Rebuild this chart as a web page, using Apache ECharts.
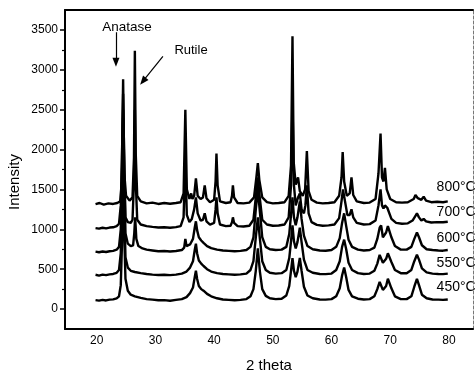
<!DOCTYPE html>
<html><head><meta charset="utf-8">
<script src="https://cdn.jsdelivr.net/npm/echarts@6/dist/echarts.min.js"></script>
<style>html,body{margin:0;padding:0;background:#fff}#c{width:476px;height:374px}</style>
</head><body><div id="c"></div>
<script>
const xTicks = [20,30,40,50,60,70,80];
const yTicks = [0,500,1000,1500,2000,2500,3000,3500];
const yMinorTicks = [250,750,1250,1750,2250,2750,3250];
const seriesNames = ['450°C','550°C','600°C','700°C','800°C'];

const s450 = [[19.8,112],[20.4,105],[21.0,115],[21.6,108],[22.2,118],[22.8,122],[23.4,135],[23.8,160],[24.1,300],[24.3,800],[24.5,2000],[24.7,900],[24.9,380],[25.3,230],[25.8,180],[26.5,160],[27.5,140],[28.5,125],[29.5,118],[30.5,110],[31.5,112],[32.5,105],[33.5,115],[34.5,125],[35.3,150],[35.9,200],[36.4,270],[36.7,400],[36.9,480],[37.1,380],[37.4,290],[37.8,250],[38.2,230],[38.8,190],[39.5,160],[40.5,135],[41.5,120],[42.5,115],[43.5,110],[44.5,115],[45.5,125],[46.2,160],[46.7,250],[47.1,480],[47.45,760],[47.8,470],[48.2,250],[48.8,165],[49.5,135],[50.5,125],[51.5,130],[52.3,170],[52.8,290],[53.1,480],[53.35,640],[53.6,480],[53.9,400],[54.2,470],[54.6,640],[54.9,480],[55.3,280],[55.9,170],[56.8,135],[58,120],[59,118],[60,125],[60.8,160],[61.4,260],[61.8,420],[62.15,520],[62.5,400],[62.9,240],[63.5,160],[64.5,130],[65.5,120],[66.5,125],[67.3,160],[67.8,250],[68.2,340],[68.45,350],[68.75,240],[69.0,220],[69.3,290],[69.6,380],[69.85,390],[70.2,260],[70.8,160],[71.8,125],[72.8,125],[73.6,160],[74.1,280],[74.55,380],[74.9,300],[75.4,180],[76.2,135],[77.2,120],[78.2,118],[79,115],[79.8,120]];

const s550 = [[19.8,430],[20.4,420],[21.0,432],[21.6,425],[22.2,435],[22.8,440],[23.4,455],[23.8,490],[24.1,700],[24.3,1400],[24.5,2400],[24.7,1300],[24.9,650],[25.3,520],[25.8,480],[26.5,465],[27.5,450],[28.5,440],[29.5,432],[30.5,428],[31.5,430],[32.5,425],[33.5,432],[34.5,445],[35.3,470],[35.9,520],[36.4,600],[36.7,740],[36.9,820],[37.1,700],[37.4,610],[37.8,570],[38.2,540],[38.8,500],[39.5,470],[40.5,450],[41.5,440],[42.5,435],[43.5,430],[44.5,435],[45.5,445],[46.2,490],[46.7,600],[47.1,900],[47.45,1150],[47.8,880],[48.2,600],[48.8,490],[49.5,455],[50.5,445],[51.5,450],[52.3,490],[52.8,640],[53.1,850],[53.35,1050],[53.6,850],[53.9,760],[54.2,840],[54.6,1020],[54.9,840],[55.3,620],[55.9,490],[56.8,455],[58,440],[59,438],[60,445],[60.8,490],[61.4,600],[61.8,780],[62.15,870],[62.5,750],[62.9,580],[63.5,490],[64.5,450],[65.5,440],[66.5,445],[67.3,480],[67.8,570],[68.2,680],[68.45,700],[68.75,580],[69.0,560],[69.3,630],[69.6,700],[69.85,710],[70.2,590],[70.8,490],[71.8,450],[72.8,450],[73.6,490],[74.1,600],[74.55,680],[74.9,620],[75.4,510],[76.2,460],[77.2,445],[78.2,440],[79,438],[79.8,445]];

const s600 = [[19.8,720],[20.4,712],[21.0,722],[21.6,715],[22.2,725],[22.8,730],[23.4,745],[23.8,780],[24.1,1000],[24.3,1800],[24.5,2880],[24.7,1700],[24.9,950],[25.3,820],[25.8,790],[26.2,800],[26.4,950],[26.55,1150],[26.75,880],[27.1,790],[27.8,760],[28.5,745],[29.5,735],[30.5,725],[31.5,728],[32.5,722],[33.5,728],[34.5,740],[34.9,770],[35.1,880],[35.3,790],[35.9,810],[36.4,880],[36.7,1020],[36.9,1100],[37.1,990],[37.4,900],[37.8,860],[38.2,830],[38.8,790],[39.5,765],[40.5,745],[41.5,735],[42.5,730],[43.5,725],[44.5,730],[45.5,740],[46.2,780],[46.7,900],[47.1,1250],[47.45,1500],[47.8,1220],[48.2,900],[48.8,780],[49.5,750],[50.5,740],[51.5,745],[52.3,780],[52.8,940],[53.1,1180],[53.35,1400],[53.6,1150],[53.9,1050],[54.2,1150],[54.6,1350],[54.9,1130],[55.3,920],[55.9,790],[56.8,750],[58,735],[59,732],[60,740],[60.8,780],[61.4,890],[61.8,1080],[62.15,1200],[62.5,1040],[62.9,870],[63.5,780],[64.5,745],[65.5,735],[66.5,740],[67.3,770],[67.8,880],[68.2,1020],[68.45,1050],[68.75,900],[69.0,880],[69.3,960],[69.6,1040],[69.85,1050],[70.2,900],[70.8,790],[71.8,745],[72.8,745],[73.6,780],[74.1,880],[74.55,960],[74.9,900],[75.4,800],[76.2,750],[77.2,740],[78.2,735],[79,732],[79.8,740]];

const s700 = [[19.8,1015],[20.4,1008],[21.0,1020],[21.6,1012],[22.2,1022],[22.8,1025],[23.4,1040],[23.8,1070],[24.1,1300],[24.3,1900],[24.5,2700],[24.7,1800],[24.9,1150],[25.3,1090],[25.8,1080],[26.1,1120],[26.35,1600],[26.5,2500],[26.65,1600],[26.9,1120],[27.5,1060],[28.5,1040],[29.5,1030],[30.5,1022],[31.5,1025],[32.5,1020],[33.5,1028],[34.3,1040],[34.8,1150],[35.1,1900],[35.35,1180],[35.8,1090],[36.2,1130],[36.6,1250],[36.9,1400],[37.2,1200],[37.7,1110],[38.1,1120],[38.4,1200],[38.7,1100],[39.3,1060],[40.0,1080],[40.25,1250],[40.4,1400],[40.6,1200],[41.0,1060],[42.0,1040],[42.8,1045],[43.05,1090],[43.2,1150],[43.4,1080],[44,1040],[45,1035],[46,1045],[46.7,1120],[47.1,1400],[47.45,1650],[47.8,1380],[48.2,1120],[49,1060],[50,1045],[51,1048],[52,1060],[52.7,1150],[53.1,1550],[53.35,2600],[53.6,1550],[53.9,1300],[54.3,1400],[54.6,1450],[54.9,1250],[55.3,1200],[55.55,1300],[55.8,1550],[56.1,1200],[56.6,1090],[57.5,1055],[58.5,1045],[59.5,1050],[60.5,1060],[61.3,1140],[61.7,1350],[61.95,1500],[62.3,1350],[62.7,1180],[63.1,1180],[63.4,1250],[63.7,1150],[64.3,1080],[65.5,1060],[66.5,1065],[67.5,1110],[68.0,1300],[68.35,1500],[68.6,1300],[68.85,1260],[69.1,1300],[69.5,1270],[69.8,1250],[70.2,1130],[71,1080],[72,1070],[73,1075],[73.8,1110],[74.3,1170],[74.55,1200],[74.9,1150],[75.3,1110],[75.7,1130],[76.1,1100],[77,1085],[78,1090],[79,1088],[79.8,1095]];

const s800 = [[19.8,1315],[20.5,1330],[21.2,1310],[22,1325],[22.8,1318],[23.5,1330],[24.0,1350],[24.3,1600],[24.5,2500],[24.7,1700],[25.0,1420],[25.6,1360],[26.1,1400],[26.35,1900],[26.5,3240],[26.65,1950],[26.9,1420],[27.5,1350],[28.5,1325],[29.5,1335],[30.5,1318],[31.5,1330],[32.5,1320],[33.5,1330],[34.3,1340],[34.8,1450],[35.1,2500],[35.35,1500],[35.8,1380],[36.1,1450],[36.3,1380],[36.6,1420],[36.9,1640],[37.2,1420],[37.7,1380],[38.1,1400],[38.4,1550],[38.7,1390],[39.3,1340],[40.0,1370],[40.25,1600],[40.4,1950],[40.6,1550],[41.0,1350],[42.0,1330],[42.8,1340],[43.05,1420],[43.2,1550],[43.4,1400],[44,1330],[45,1325],[46,1335],[46.8,1400],[47.2,1650],[47.45,1830],[47.7,1620],[48.2,1400],[49,1340],[50,1325],[51,1330],[52,1340],[52.7,1420],[53.1,1800],[53.35,3420],[53.55,1850],[53.9,1560],[54.3,1650],[54.6,1480],[55.1,1420],[55.5,1500],[55.8,1980],[56.1,1480],[56.6,1370],[57.5,1335],[58.5,1325],[59.5,1330],[60.5,1340],[61.3,1420],[61.7,1650],[61.9,1970],[62.15,1600],[62.6,1420],[63.1,1450],[63.4,1650],[63.7,1430],[64.3,1350],[65.5,1330],[66.5,1335],[67.5,1380],[68.0,1700],[68.35,2200],[68.6,1650],[68.85,1600],[69.1,1770],[69.4,1500],[70,1380],[71,1340],[72,1335],[73,1340],[74,1380],[74.3,1430],[74.45,1450],[74.7,1390],[75.3,1370],[75.7,1410],[76.1,1360],[77,1340],[78,1345],[79,1340],[79.8,1350]];

const labelY = [276,576,890,1216,1529];
const labelX = 77.9;

const chart = echarts.init(document.getElementById('c'), null, {renderer:'canvas'});
const FONT = 'Liberation Sans, Arial, sans-serif';
const allData = [s450,s550,s600,s700,s800];
const series = allData.map((d,i)=>({
  type:'line', name:seriesNames[i], data:d, xAxisIndex:0, yAxisIndex:0,
  showSymbol:false, symbol:'none', silent:true, animation:false,
  lineStyle:{color:'#000', width:2.4}, z:2
}));
// arrows
series.push({
  type:'line', xAxisIndex:0, yAxisIndex:0, data:[], silent:true, animation:false,
  markLine:{silent:true, animation:false, symbol:['none','triangle'], symbolSize:[7,9],
    lineStyle:{color:'#000', width:1.2, type:'solid'}, label:{show:false},
    data:[
      [{coord:[23.28,3471]},{coord:[23.28,3095]}],
      [{coord:[31.28,3170]},{coord:[27.88,2857]}]
    ]}
});

chart.setOption({
  animation:false,
  grid:{left:65, right:3, top:10, bottom:45, show:false, containLabel:false, outerBoundsMode:'none'},
  xAxis:[{
    type:'value', min:14.6, max:84.1, position:'bottom',
    axisLine:{show:true, onZero:false, lineStyle:{color:'#000', width:2}},
    axisTick:{show:false},
    splitLine:{show:false},
    axisLabel:{customValues:xTicks, color:'#000', fontFamily:FONT, fontSize:12, margin:6},
    name:'2 theta', nameLocation:'middle', nameGap:29,
    nameTextStyle:{color:'#000', fontFamily:FONT, fontSize:15}
  },{
    type:'value', min:14.6, max:84.1, position:'top',
    axisLine:{show:true, onZero:false, lineStyle:{color:'#000', width:2}},
    axisTick:{show:false}, axisLabel:{show:false}, splitLine:{show:false}
  }],
  yAxis:[{
    type:'value', min:-250, max:3750, position:'left',
    axisLine:{show:true, onZero:false, lineStyle:{color:'#000', width:2}},
    axisTick:{show:true, customValues:yTicks, length:5, lineStyle:{color:'#000', width:1.5}},
    axisLabel:{customValues:yTicks, formatter:v=>String(v), color:'#000', fontFamily:FONT, fontSize:12, margin:7},
    splitLine:{show:false}
  },{
    type:'value', min:-250, max:3750, position:'left',
    axisLine:{show:false},
    axisTick:{show:true, customValues:yMinorTicks, length:3, lineStyle:{color:'#000', width:1.2}},
    axisLabel:{show:false}, splitLine:{show:false}
  },{
    type:'value', min:-250, max:3750, position:'right',
    axisLine:{show:true, onZero:false, lineStyle:{color:'#777', width:1, type:[3,2]}},
    axisTick:{show:false}, axisLabel:{show:false}, splitLine:{show:false}
  }],
  graphic:[
    {type:'text', x:15, y:182, rotation:Math.PI/2, style:{text:'Intensity', font:'15px '+FONT, fill:'#000', textAlign:'center', textVerticalAlign:'middle'}},
    {type:'text', x:127, y:27, style:{text:'Anatase', font:'13.5px '+FONT, fill:'#000', textAlign:'center', textVerticalAlign:'middle'}},
    {type:'text', x:191, y:50, style:{text:'Rutile', font:'13px '+FONT, fill:'#000', textAlign:'center', textVerticalAlign:'middle'}}
  ],
  series:series
});
// temperature labels placed from data coordinates
const tempLabels = seriesNames.map((n,i)=>{
  const p = chart.convertToPixel({xAxisIndex:0, yAxisIndex:0}, [labelX, labelY[i]]);
  return {type:'text', x:p[0], y:p[1], style:{text:n, font:'14px '+FONT, fill:'#000', textAlign:'left', textVerticalAlign:'middle'}};
});
chart.setOption({graphic: tempLabels.map((g,i)=>Object.assign({id:'t'+i}, g))});
</script></body></html>
